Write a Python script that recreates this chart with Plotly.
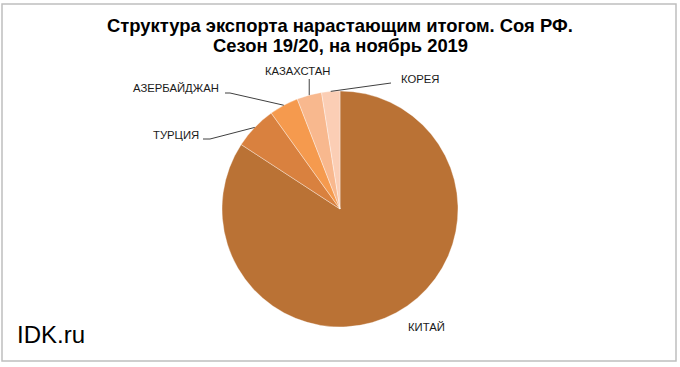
import math
import plotly.graph_objects as go

# ---- data ----
countries = ["КИТАЙ", "ТУРЦИЯ", "АЗЕРБАЙДЖАН", "КАЗАХСТАН", "КОРЕЯ"]
shares = [84.2, 5.9, 4.0, 3.4, 2.5]
colors = ["#BA7235", "#D9813F", "#F59A4E", "#F8B88E", "#FBCEB5"]

W, H = 680, 367
CX, CY, R = 340, 209, 118  # pie centre / radius in pixels

fig = go.Figure(go.Pie(
    labels=countries, values=shares, sort=False, direction="clockwise", rotation=0,
    marker=dict(colors=colors, line=dict(color="rgba(255,255,255,0.6)", width=0.6)),
    textinfo="none", hoverinfo="label+percent", showlegend=False,
    domain=dict(x=[(CX - R) / W, (CX + R) / W], y=[(H - CY - R) / H, (H - CY + R) / H]),
))

def px(x, y):
    return x / W, 1 - y / H

# mid-angle point on the pie edge for each slice (derived from data)
total = sum(shares)
edge = {}
cum = 0.0
for name, v in zip(countries, shares):
    mid = (cum + v / 2) / total * 2 * math.pi  # clockwise from 12 o'clock
    edge[name] = (CX + R * math.sin(mid), CY - R * math.cos(mid))
    cum += v

shapes = []
legs = {
    "КОРЕЯ": [(391, 83)],
    "КАЗАХСТАН": [None, 79],
    "АЗЕРБАЙДЖАН": [(230, 93), (225, 93)],
    "ТУРЦИЯ": [(210, 139), (203, 139)],
}
for name, pts in legs.items():
    ex, ey = edge[name]
    if pts[0] is None:
        pts = [(ex, pts[1])]
    path_pts = [(ex, ey)] + pts
    d = "M " + " L ".join(f"{px(x, y)[0]},{px(x, y)[1]}" for x, y in path_pts)
    shapes.append(dict(type="path", path=d, xref="paper", yref="paper",
                       line=dict(color="#404040", width=1)))

# outer frame
shapes.append(dict(type="rect", xref="paper", yref="paper",
                   x0=2 / W, x1=676 / W, y0=1 - 361 / H, y1=1 - 4 / H,
                   line=dict(color="#BFBFBF", width=1.5)))

lab_font = dict(family="Liberation Sans, Arial, sans-serif", size=11.3, color="#1a1a1a")
label_pos = {
    "КОРЕЯ": (399, 79, "left"),
    "КАЗАХСТАН": (298, 71, "center"),
    "АЗЕРБАЙДЖАН": (221, 88, "right"),
    "ТУРЦИЯ": (201, 135, "right"),
    "КИТАЙ": (406, 327, "left"),
}
annotations = []
for name, (x, y, anc) in label_pos.items():
    xp, yp = px(x, y)
    annotations.append(dict(x=xp, y=yp, xref="paper", yref="paper", text=name,
                            showarrow=False, xanchor=anc, yanchor="middle", font=lab_font))

title_font = dict(family="Liberation Sans, Arial, sans-serif", size=18.4, color="black")
for txt, y in [("<b>Структура экспорта нарастающим итогом. Соя РФ.</b>", 25),
               ("<b>Сезон 19/20, на ноябрь 2019</b>", 45)]:
    xp, yp = px(340, y)
    annotations.append(dict(x=xp, y=yp, xref="paper", yref="paper", text=txt,
                            showarrow=False, xanchor="center", yanchor="middle", font=title_font))

xp, yp = px(15, 334)
annotations.append(dict(x=xp, y=yp, xref="paper", yref="paper", text="IDK.ru",
                        showarrow=False, xanchor="left", yanchor="middle",
                        font=dict(family="Liberation Sans, Arial, sans-serif", size=24, color="black")))

fig.update_layout(width=W, height=H, margin=dict(l=0, r=0, t=0, b=0),
                  paper_bgcolor="white", plot_bgcolor="white",
                  shapes=shapes, annotations=annotations)

fig.write_html("out.html", config={"displayModeBar": False},
               post_script="document.body.style.margin='0';document.body.style.overflow='hidden';")
